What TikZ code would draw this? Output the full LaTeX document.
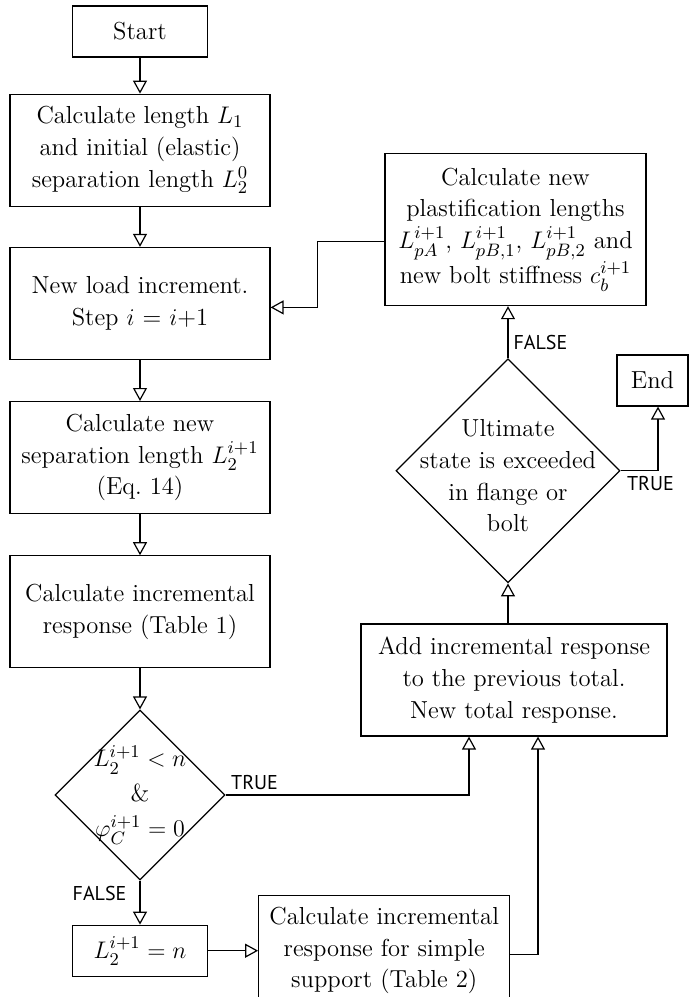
\documentclass[tikz,border=0pt]{standalone}
\usepackage{fontspec}
\usepackage{amsmath}
\newfontfamily\tagfont{PT Sans}
\usetikzlibrary{arrows.meta,positioning,shapes.geometric,calc}
\tikzset{
  >={Triangle[open,length=6.5pt,width=7pt]},
  every picture/.append style={line width=0.6pt},
}
\newcommand{\boxfont}{\fontsize{12.3}{15.8}\selectfont}
\newcommand{\diafont}{\fontsize{12.3}{17.5}\selectfont}

\begin{document}
\begin{tikzpicture}[
  block/.style={rectangle, draw, align=center, font=\boxfont, inner sep=2pt, minimum width=130pt, minimum height=56pt},
  smallblock/.style={block, minimum width=67.5pt, minimum height=25.5pt},
  decision/.style={diamond, draw, inner sep=0pt},
  flow/.style={->},
  tag/.style={font=\tagfont\fontsize{10}{12}\selectfont, inner sep=2.5pt}
]
\useasboundingbox (0,0) rectangle (344.5pt,-498.5pt);

% --- Main column: load stepping ---
\node[smallblock] (start) at (70pt,-15.75pt) {Start};
\node[block, below=18pt of start] (length) {Calculate length $L_1$\\and initial (elastic)\\separation length $L_2^0$};
\node[block, below=20pt of length] (load) {New load increment.\\Step $i$ = $i$+1};
\node[block, below=20.5pt of load] (sep) {Calculate new\\separation length $L_2^{i+1}$\\(Eq.~14)};
\node[block, below=20.5pt of sep] (incr) {Calculate incremental\\response (Table 1)};
\node[decision, minimum width=85pt, minimum height=85pt, below=20.5pt of incr,
  label={[align=center, font=\diafont]center:{$L_2^{i+1} < n$\\\&\\$\varphi_C^{i+1} = 0$}}] (check) {};
\node[smallblock, below=22pt of check] (fixlen) {$L_2^{i+1} = n$};
\node[block, minimum width=125.5pt, minimum height=55pt, right=25pt of fixlen] (simple) {Calculate incremental\\response for simple\\support (Table 2)};

% --- Right column: totals and check of the limit ---
\node[block, minimum width=153pt] (add) at (257pt,-340pt) {Add incremental response\\to the previous total.\\New total response.};
\node[decision, minimum width=112pt, minimum height=112pt, above=20pt of add, xshift=-3pt,
  label={[align=center, font=\boxfont, yshift=-2.5pt]center:{Ultimate\\state is exceeded\\in flange or\\bolt}}] (ultimate) {};
\node[block, minimum width=130.5pt, minimum height=76pt, above=26pt of ultimate, xshift=3.75pt] (plast) {Calculate new\\plastification lengths\\$L_{pA}^{i+1}$, $L_{pB,1}^{i+1}$, $L_{pB,2}^{i+1}$ and\\new bolt stiffness $c_b^{i+1}$};
\node[smallblock, minimum width=35.5pt] (end) at (326.25pt,-190.25pt) {End};

% --- Connectors ---
\draw[flow] (start) -- (length);
\draw[flow] (length) -- (load);
\draw[flow] (load) -- (sep);
\draw[flow] (sep) -- (incr);
\draw[flow] (incr) -- (check);
\draw[flow] (check) -- node[tag, pos=0.3, left, xshift=-4pt] {FALSE} (fixlen);
\draw[flow] (fixlen) -- (simple);
\draw[flow] (check.east) node[tag, above right] {TRUE} -| ([xshift=-22.5pt]add.south);
\draw[flow] ([yshift=-2pt]simple.east) -| ([xshift=12pt]add.south);
\draw[flow] (add.north -| ultimate) -- (ultimate);
\draw[flow] (ultimate) -- node[tag, pos=0.3, right] {FALSE} (ultimate |- plast.south);
\draw[flow] (ultimate.east) -| node[tag, pos=0.4, below] {TRUE} ([xshift=2.75pt]end.south);
\draw[flow] ([yshift=-6pt]plast.west) -- ++(-33.5pt,0) |- ([yshift=-2pt]load.east);

\end{tikzpicture}
\end{document}
